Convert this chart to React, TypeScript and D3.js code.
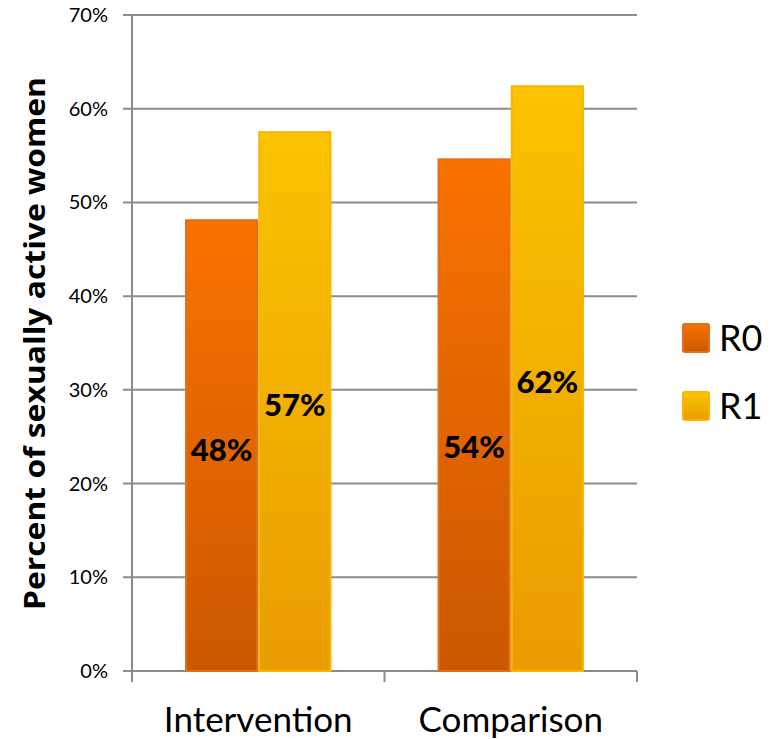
import React from "react";
import * as d3 from "d3";

const categories = ["Intervention", "Comparison"];
const seriesNames = ["R0", "R1"];
const r0Values = [48.1, 54.6];
const r1Values = [57.5, 62.4];
const valueLabels = [["48%", "54%"], ["57%", "62%"]];
const labelLevels = [[23.6, 23.9], [28.4, 30.8]];
const yTicks = [0, 10, 20, 30, 40, 50, 60, 70];

const W = 782;
const H = 739;
const left = 132;
const right = 637;
const top = 15;
const bottom = 671;
const font = "Lato, 'Open Sans', sans-serif";

const grads = [
  { id: "g0", top: "#FA7200", bot: "#CB5800", stroke: "#E0701A" },
  { id: "g1", top: "#FBC300", bot: "#E99C00", stroke: "#F9B500" },
];

export default function App() {
  const y = d3.scaleLinear().domain([0, 70]).range([bottom, top]);
  const x = d3.scaleBand().domain(categories).range([left, right]).padding(0);
  const bw = x.bandwidth();
  const xs = d3
    .scaleBand()
    .domain(seriesNames)
    .range([bw * 0.21, bw * 0.79])
    .padding(0);
  const series = [r0Values, r1Values];

  return (
    <svg width={W} height={H} style={{ position: "absolute", left: 0, top: 0 }}>
      <defs>
        {grads.map((g) => (
          <linearGradient key={g.id} id={g.id} x1="0" y1="0" x2="0" y2="1" gradientUnits="objectBoundingBox">
            <stop offset="0" stopColor={g.top} />
            <stop offset="1" stopColor={g.bot} />
          </linearGradient>
        ))}
      </defs>
      {yTicks.map((t) => (
        <g key={t}>
          <line x1={left - 9} x2={right} y1={y(t)} y2={y(t)} stroke="#8c8c8c" strokeWidth={2} />
          <text x={108} y={y(t)} dy="0.35em" textAnchor="end" fontFamily={font} fontSize={20} fill="#000">
            {t}%
          </text>
        </g>
      ))}
      <line x1={left} x2={left} y1={top} y2={bottom + 11} stroke="#8c8c8c" strokeWidth={2} />
      {categories.map((c) => (
        <line key={c} x1={(x(c) as number) + bw} x2={(x(c) as number) + bw} y1={bottom} y2={bottom + 11} stroke="#8c8c8c" strokeWidth={2} />
      ))}
      {series.map((vals, si) =>
        categories.map((c, ci) => {
          const bx = (x(c) as number) + (xs(seriesNames[si]) as number);
          return (
            <rect
              key={c + si}
              x={bx + 1}
              y={y(vals[ci])}
              width={xs.bandwidth() - 2}
              height={bottom - y(vals[ci])}
              fill={`url(#${grads[si].id})`}
              stroke={grads[si].stroke}
              strokeWidth={2}
            />
          );
        })
      )}
      {series.map((vals, si) =>
        categories.map((c, ci) => {
          const cx = (x(c) as number) + (xs(seriesNames[si]) as number) + xs.bandwidth() / 2;
          return (
            <text
              key={"l" + c + si}
              x={cx}
              y={y(labelLevels[si][ci])}
              dy="0.35em"
              textAnchor="middle"
              fontFamily={font}
              fontWeight="900"
              fontSize={31}
              fill="#000"
            >
              {valueLabels[si][ci]}
            </text>
          );
        })
      )}
      {categories.map((c) => (
        <text key={"c" + c} x={(x(c) as number) + bw / 2} y={732} textAnchor="middle" fontFamily={font} fontSize={35} fill="#000">
          {c}
        </text>
      ))}
      <text
        transform={`translate(45,${(77 + 610) / 2}) rotate(-90)`}
        textAnchor="middle"
        fontFamily="'Open Sans', sans-serif"
        fontWeight="bold"
        fontSize={28}
        textLength={533}
        lengthAdjust="spacingAndGlyphs"
        fill="#000"
      >
        Percent of sexually active women
      </text>
      {seriesNames.map((s, i) => (
        <g key={"lg" + s} transform={`translate(683,${324 + i * 68})`}>
          <rect x={0} y={0} width={26} height={28} rx={2} fill={`url(#${grads[i].id})`} stroke={grads[i].stroke} strokeWidth={2} />
          <text x={36} y={27} fontFamily={font} fontSize={36} fill="#000">
            {s}
          </text>
        </g>
      ))}
    </svg>
  );
}
